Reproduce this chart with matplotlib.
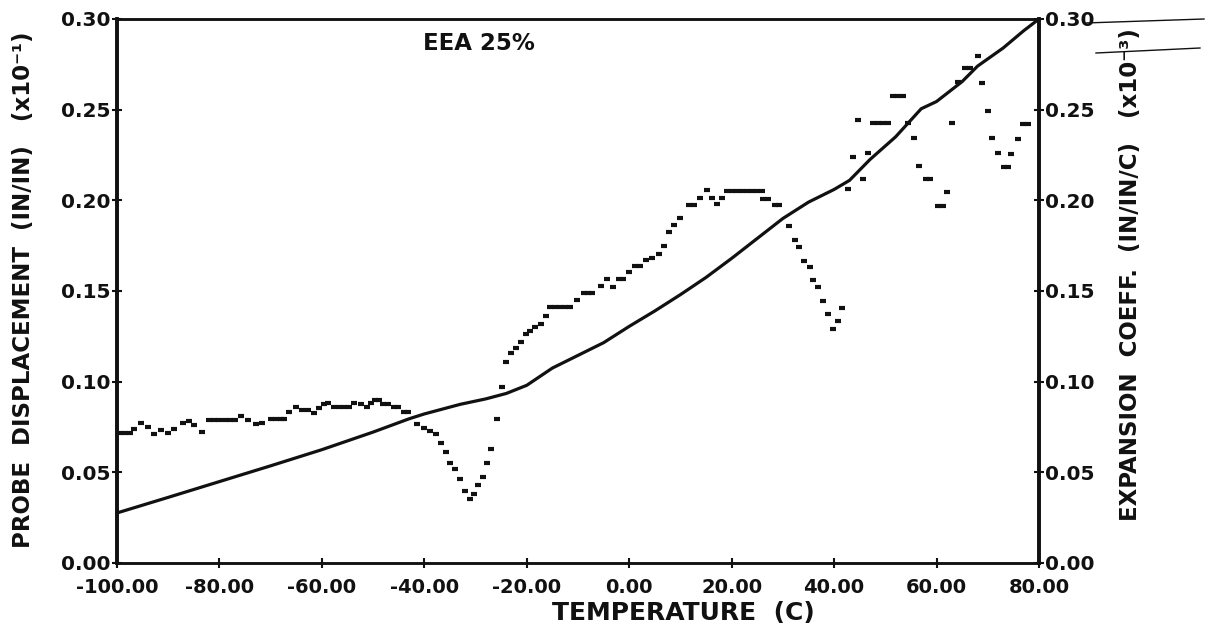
import matplotlib
matplotlib.use("Agg")
import matplotlib.pyplot as plt
from matplotlib.lines import Line2D
from matplotlib.ticker import FuncFormatter

plt.rcParams["font.family"] = ["DejaVu Sans"]
plt.rcParams["font.weight"] = "bold"
plt.rcParams["axes.unicode_minus"] = False

# probe displacement curve (solid line), left axis
disp_temp = [-100, -90, -80, -70, -60, -50, -43, -40, -33, -28, -24, -20, -15, -10,
             -5, 0, 5, 10, 15, 20, 25, 30, 35, 40, 43, 47, 52, 57, 60, 65, 68, 73, 77, 80]
disp_val = [0.0276, 0.0362, 0.0449, 0.0536, 0.0625, 0.0722, 0.0795, 0.0822, 0.0875,
            0.0905, 0.0935, 0.0980, 0.1075, 0.1145, 0.1215, 0.1305, 0.1390, 0.1480,
            0.1575, 0.1680, 0.1790, 0.1900, 0.1990, 0.2060, 0.2110, 0.2225, 0.2350,
            0.2505, 0.2545, 0.2655, 0.2740, 0.2840, 0.2935, 0.3000]

# expansion coefficient readings (dash marks), right axis
coef_temp = [-99.5, -98.5, -97.5, -96.6, -95.3, -94.0, -92.7, -91.4, -90.1, -88.8,
             -87.2, -85.9, -84.9, -83.4, -82, -81, -80, -79, -78, -77, -75.8, -74.5,
             -72.9, -71.6, -70, -69, -68, -67.3, -66.4, -65.1, -63.8, -62.8, -61.5,
             -60.5, -59.6, -58.9, -57.6, -56.6, -55.6, -54.7, -53.7, -52.4, -51.1,
             -50.4, -49.6, -48.8, -48.0, -47.0, -46.0, -45.2, -44.0, -43.2,
             -41.4, -40.1, -38.8, -37.7, -36.8, -35.8, -35.0, -34.0, -33.0, -32.1,
             -31.1, -30.3, -29.5, -28.5, -27.8, -26.9, -25.8, -24.9, -24.1, -23.0,
             -22.2, -21.2, -20.2, -19.3, -18.3, -17.3, -16.2, -15.5, -14.5, -13.5,
             -12.5, -11.5, -10.2, -8.9, -8.0, -7.2, -5.6, -4.3, -3.2, -2.0, -1.2,
             0.0, 1.2, 2.2, 3.2, 4.4, 5.8, 6.7, 7.7, 8.7, 10.0, 11.6, 12.6, 13.9,
             15.2, 16.1, 17.1, 18.1, 19, 20, 21, 22, 23, 24, 25, 25.9, 26.2, 27,
             28.4, 29.2, 31.1, 32.3, 33.2, 34.2, 35.2, 35.8, 36.9, 37.9, 38.9, 39.7,
             40.7, 41.6, 42.8, 43.6, 44.7, 45.7, 46.6, 47.5, 48.5, 49.5, 50.5, 51.5,
             52.5, 53.5, 54.5, 55.5, 56.6, 58.0, 58.8, 60.3, 61.2, 62.0, 63.1, 64.1,
             65.5, 66.5, 68.1, 68.9, 70.1, 70.9, 72.0, 73.2, 74.0, 74.6, 75.9, 76.8,
             77.8]
coef_val = [0.0719, 0.0719, 0.0719, 0.0737, 0.0770, 0.0752, 0.0711, 0.0734, 0.0719,
            0.0737, 0.0770, 0.0785, 0.0761, 0.0722, 0.0789, 0.0789, 0.0789, 0.0789,
            0.0789, 0.0789, 0.0811, 0.0789, 0.0767, 0.0774, 0.0793, 0.0793, 0.0793,
            0.0793, 0.0835, 0.0862, 0.0844, 0.0844, 0.0826, 0.0853, 0.0877, 0.0881,
            0.0859, 0.0859, 0.0859, 0.0859, 0.0884, 0.0877, 0.0859, 0.0881, 0.0899,
            0.0899, 0.0877, 0.0877, 0.0859, 0.0859, 0.0835, 0.0835,
            0.0765, 0.0746, 0.0730, 0.0711, 0.0664, 0.0611, 0.0553, 0.0517, 0.0462,
            0.0397, 0.0355, 0.0379, 0.0430, 0.0473, 0.0553, 0.0629, 0.0794, 0.0971,
            0.1110, 0.1160, 0.1184, 0.1220, 0.1263, 0.1280, 0.1300, 0.1318, 0.1362,
            0.1410, 0.1410, 0.1410, 0.1410, 0.1410, 0.1451, 0.1490, 0.1490, 0.1490,
            0.1528, 0.1566, 0.1524, 0.1565, 0.1565, 0.1607, 0.1638, 0.1638, 0.1671,
            0.1680, 0.1704, 0.1750, 0.1824, 0.1864, 0.1900, 0.1975, 0.1975, 0.2011,
            0.2057, 0.2011, 0.1980, 0.2011, 0.2054, 0.2054, 0.2054, 0.2054, 0.2054,
            0.2054, 0.2054, 0.2054, 0.2008, 0.2008, 0.1975, 0.1975, 0.1859, 0.1780,
            0.1745, 0.1667, 0.1634, 0.1560, 0.1520, 0.1445, 0.1373, 0.1290, 0.1335,
            0.1408, 0.2061, 0.2241, 0.2443, 0.2118, 0.2263, 0.2429, 0.2429, 0.2429,
            0.2429, 0.2576, 0.2576, 0.2576, 0.2429, 0.2343, 0.2190, 0.2116, 0.2116,
            0.1969, 0.1969, 0.2048, 0.2425, 0.2655, 0.2729, 0.2729, 0.2797, 0.2646,
            0.2495, 0.2343, 0.2260, 0.2186, 0.2186, 0.2254, 0.2339, 0.2420, 0.2420]

x_ticks = [-100, -80, -60, -40, -20, 0, 20, 40, 60, 80]
y_ticks = [0.00, 0.05, 0.10, 0.15, 0.20, 0.25, 0.30]

ink = "#111111"
W, H = 1206, 627
fig = plt.figure(figsize=(W / 100, H / 100), dpi=100)
fig.patch.set_facecolor("white")
ax = fig.add_axes([117 / W, 1 - 563 / H, (1039 - 117) / W, (563 - 19) / H])
ax2 = ax.twinx()

ax.plot(disp_temp, disp_val, color=ink, lw=2.3, solid_capstyle="round", zorder=3)
ax2.plot(coef_temp, coef_val, ls="none", marker="_", ms=4.6, mew=3.0, color=ink, zorder=3)

fmt = FuncFormatter(lambda v, p: f"{v:.2f}")
for a in (ax, ax2):
    a.set_xlim(-100, 80)
    a.set_ylim(0, 0.30)
    a.set_yticks(y_ticks)
    a.yaxis.set_major_formatter(fmt)
    a.tick_params(axis="y", direction="inout", length=7, width=1.5, labelsize=14.5,
                  colors=ink, pad=1)
    a.spines["left"].set_linewidth(2.6)
    a.spines["right"].set_linewidth(2.6)
    a.spines["top"].set_linewidth(1.8)
    a.spines["bottom"].set_linewidth(1.8)
    for s in a.spines.values():
        s.set_color(ink)

ax.set_xticks(x_ticks)
ax.xaxis.set_major_formatter(fmt)
ax.tick_params(axis="x", direction="inout", length=7, width=1.5, labelsize=14,
               colors=ink, pad=7)

ax.text((423 - 117) / (1039 - 117), (563 - 43) / (563 - 19), "EEA 25%",
        transform=ax.transAxes, fontsize=16.5, color=ink, va="center", ha="left")

fig.text(24 / W, 1 - 290 / H, "PROBE  DISPLACEMENT  (IN/IN)   (x10\u207b\u00b9)",
         rotation=90, ha="center", va="center", fontsize=16.5, color=ink)
fig.text(1130 / W, 1 - 275 / H, "EXPANSION  COEFF.  (IN/IN/C)   (x10\u207b\u00b3)",
         rotation=90, ha="center", va="center", fontsize=16.5, color=ink)
fig.text(683 / W, 1 - 613 / H, "TEMPERATURE  (C)", ha="center", va="center",
         fontsize=18, color=ink)

# pen strokes beside the right-hand label
for (x0, y0, x1, y1) in [(1085, 23, 1204, 19), (1096, 53, 1200, 48)]:
    fig.add_artist(Line2D([x0 / W, x1 / W], [1 - y0 / H, 1 - y1 / H],
                          transform=fig.transFigure, color=ink, lw=1.0))

fig.savefig("out.png", dpi=100, facecolor="white")
